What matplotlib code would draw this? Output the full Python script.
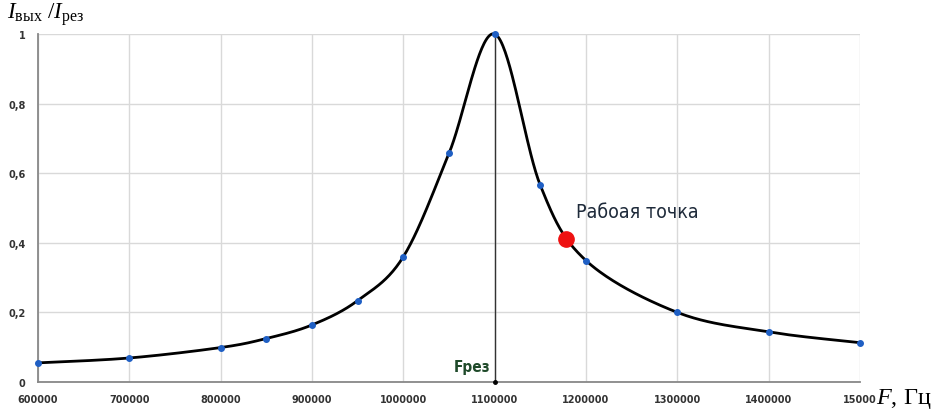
import numpy as np
import matplotlib
matplotlib.use("Agg")
import matplotlib.pyplot as plt

freq = [600000, 700000, 800000, 850000, 900000, 950000, 1000000, 1050000,
        1100000, 1150000, 1200000, 1300000, 1400000, 1500000]
ratio = [0.055, 0.069, 0.099, 0.125, 0.164, 0.234, 0.36, 0.657,
         1.0, 0.565, 0.349, 0.20, 0.144, 0.113]
work_f = 1178000
work_r = 0.41
f_res = 1100000

x_ticks = [600000, 700000, 800000, 900000, 1000000, 1100000, 1200000,
           1300000, 1400000, 1500000]
x_ticklabels = ["600000", "700000", "800000", "900000", "1000000", "1100000",
                "1200000", "1300000", "1400000", "15000"]
y_ticks = [0, 0.2, 0.4, 0.6, 0.8, 1.0]
y_ticklabels = ["0", "0,2", "0,4", "0,6", "0,8", "1"]

plt.rcParams['mathtext.fontset'] = 'custom'
plt.rcParams['mathtext.rm'] = 'Liberation Serif'
plt.rcParams['mathtext.it'] = 'Liberation Serif:italic'

W, H = 941, 414
fig = plt.figure(figsize=(W / 100, H / 100), dpi=100)
x0, x1, y0, y1 = 38, 860, 383, 35
ax = fig.add_axes([x0 / W, 1 - y0 / H, (x1 - x0) / W, (y0 - y1) / H])
ax.set_xlim(600000, 1500000)
ax.set_ylim(0, 1)


def smooth(xs, ys, n=40):
    # Excel-like Bezier smoothing in pixel-normalized space
    xs = np.asarray(xs, float)
    ys = np.asarray(ys, float)
    sx = (xs - xs.min()) / (xs.max() - xs.min()) * 822
    sy = ys * 348
    P = np.column_stack([sx, sy])
    out = []
    for i in range(len(P) - 1):
        p0 = P[i - 1] if i > 0 else P[i]
        p1 = P[i]
        p2 = P[i + 1]
        p3 = P[i + 2] if i + 2 < len(P) else P[i + 1]
        c1 = p1 + (p2 - p0) / 6
        c2 = p2 - (p3 - p1) / 6
        t = np.linspace(0, 1, n)[:, None]
        seg = ((1 - t) ** 3) * p1 + 3 * ((1 - t) ** 2) * t * c1 + 3 * (1 - t) * t ** 2 * c2 + t ** 3 * p2
        out.append(seg)
    out = np.vstack(out)
    rx = out[:, 0] / 822 * (xs.max() - xs.min()) + xs.min()
    ry = out[:, 1] / 348
    return rx, ry


sx, sy = smooth(freq, ratio)
ax.plot(sx, sy, color="black", lw=2.0, zorder=3, clip_on=False)
ax.plot(freq, ratio, "o", color="#1f5fc4", ms=4, zorder=4, clip_on=False)
ax.plot([work_f], [work_r], "o", color="#ee1111", ms=11, zorder=5)

ax.plot([f_res, f_res], [0, 1], color="#333333", lw=1.0, zorder=2)
ax.plot([f_res], [0], "o", color="black", ms=2.5, zorder=5, clip_on=False)

ax.set_xticks(x_ticks)
ax.set_xticklabels(x_ticklabels)
ax.set_yticks(y_ticks)
ax.set_yticklabels(y_ticklabels)
ax.grid(True, color="#d9d9d9", lw=1.0)
ax.set_axisbelow(True)
ax.tick_params(length=0, labelsize=7, colors="#333333", pad=9)
for lab in ax.get_xticklabels() + ax.get_yticklabels():
    lab.set_fontweight("bold")
ax.tick_params(axis="y", pad=9)
for s in ["top", "right"]:
    ax.spines[s].set_visible(False)
ax.spines["left"].set_color("#888888")
ax.spines["bottom"].set_color("#888888")
ax.spines["left"].set_linewidth(1.3)
ax.spines["bottom"].set_linewidth(1.3)

ax.text(1095000, 0.045, "Fрез", color="#1f4a2a", fontsize=11, fontweight="bold",
        fontstretch="condensed", ha="right", va="center")
ax.text(1189000, 0.49, "Рабоая точка", color="#1e2a3a", fontsize=14,
        fontstretch="condensed", ha="left", va="center")

fig.text(7 / W, 1 - 15 / H, r"$I_{\mathrm{вых}}\ /I_{\mathrm{рез}}$", fontsize=16.5,
         ha="left", va="center", color="black")
fig.text(876 / W, 1 - 399 / H, r"$F$, Гц", fontsize=17.5, family="Liberation Serif",
         ha="left", va="center", color="black")

fig.savefig("out.png", dpi=100)
